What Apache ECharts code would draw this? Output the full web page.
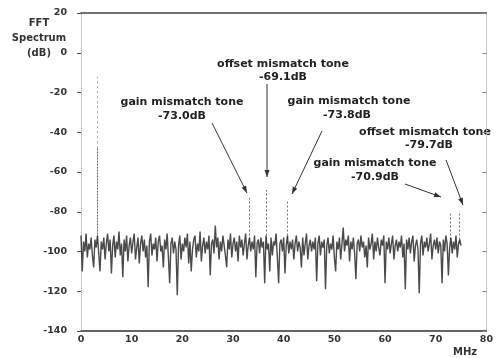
<!DOCTYPE html>
<html>
<head>
<meta charset="utf-8">
<script src="https://cdn.jsdelivr.net/npm/echarts@6/dist/echarts.min.js"></script>
<style>
html,body{margin:0;padding:0;background:#fff;}
#chart{width:496px;height:358px;}
</style>
</head>
<body>
<div id="chart"></div>
<script>
// ---- data ----
const binWidthMHz = 0.25; // FFT bin spacing of the noise floor trace
const noiseFloorDb = [
-92,-110,-95,-100,-91,-103,-96,-99,-93,-102,-108,-94,-98,-92,-101,-110,-95,-99,-93,-104,
-96,-91,-100,-94,-111,-97,-92,-103,-95,-99,-90,-102,-96,-113,-94,-100,-92,-105,-97,-93,
-101,-95,-91,-104,-98,-93,-106,-96,-92,-100,-94,-103,-97,-118,-95,-91,-102,-96,-99,-93,
-105,-95,-92,-100,-97,-108,-94,-99,-91,-103,-116,-96,-93,-101,-95,-99,-122,-97,-92,-104,
-96,-100,-93,-98,-91,-106,-95,-110,-99,-94,-92,-103,-96,-100,-90,-105,-97,-93,-101,-95,
-99,-92,-112,-96,-94,-101,-87,-98,-93,-104,-95,-100,-92,-97,-102,-108,-94,-99,-91,-103,
-96,-93,-100,-95,-105,-92,-98,-94,-102,-96,-91,-104,-97,-93,-100,-95,-99,-92,-113,-96,
-94,-101,-93,-98,-95,-116,-92,-99,-96,-110,-93,-102,-95,-97,-91,-103,-116,-96,-94,-100,
-93,-111,-97,-92,-101,-95,-99,-94,-104,-96,-92,-100,-95,-98,-108,-93,-102,-96,-91,-104,
-97,-94,-100,-95,-99,-93,-115,-96,-92,-102,-95,-98,-94,-119,-97,-93,-101,-96,-99,-92,
-103,-110,-95,-99,-93,-104,-96,-88,-100,-94,-97,-92,-105,-95,-99,-93,-101,-114,-96,-94,
-100,-92,-98,-95,-103,-97,-108,-93,-99,-96,-91,-104,-95,-100,-93,-98,-102,-94,-97,-92,
-116,-95,-99,-93,-101,-96,-92,-104,-97,-94,-100,-95,-98,-92,-103,-96,-119,-94,-99,-93,
-101,-95,-92,-105,-97,-94,-99,-121,-96,-92,-102,-95,-98,-93,-100,-96,-91,-104,-97,-94,
-99,-93,-101,-95,-97,-116,-94,-100,-92,-96,-112,-98,-93,-101,-95,-99,-92,-103,-96,-94,
-97
];
const spurFreqMHz = [33.2, 36.6, 40.7, 72.8, 74.7];
const spurLevelDb = [-73.0, -69.1, -73.8, -80.0, -79.7];
const spurBaseDb = -96;
const signalFreqMHz = 3.3;
const signalCoreDb = -48;
const signalFaintDb = -12;
const xTicks = [0, 10, 20, 30, 40, 50, 60, 70, 80];
const yTicks = [20, 0, -20, -40, -60, -80, -100, -120, -140];
const annotationTexts = [
  'offset mismatch tone', '-69.1dB',
  'gain mismatch tone', '-73.0dB',
  'gain mismatch tone', '-73.8dB',
  'offset mismatch tone', '-79.7dB',
  'gain mismatch tone', '-70.9dB'
];
const yAxisTitle = 'FFT\nSpectrum\n(dB)';
const xAxisTitle = 'MHz';

// ---- build ----
const noiseData = noiseFloorDb.map((v, i) => [i * binWidthMHz, v]);
const spurLines = spurFreqMHz.map((f, i) => ({ coords: [[f, spurBaseDb], [f, spurLevelDb[i]]] }));

const annoPos = [
  [283, 64], [283, 77],
  [182, 102], [182, 116],
  [349, 101], [347, 115],
  [425, 132], [429, 145],
  [375, 163], [375, 177]
];
const arrows = [
  [212, 123, 247, 193],
  [267, 84, 267, 177],
  [322, 131, 292, 194],
  [405, 184, 441, 197],
  [446, 160, 463, 205]
];
const annoFont = 'bold 11px "DejaVu Sans", Verdana, sans-serif';
const smallFont = 'bold 10px "DejaVu Sans", Verdana, sans-serif';

const graphics = [];
annotationTexts.forEach((t, i) => {
  graphics.push({
    type: 'text', silent: true,
    style: { text: t, x: annoPos[i][0], y: annoPos[i][1], align: 'center', verticalAlign: 'middle',
      font: annoFont, fill: '#222' }
  });
});
arrows.forEach(a => {
  const [x1, y1, x2, y2] = a;
  graphics.push({ type: 'line', silent: true, shape: { x1, y1, x2, y2 }, style: { stroke: '#333', lineWidth: 1 } });
  const ang = Math.atan2(y2 - y1, x2 - x1);
  const L = 7, W = 2.5;
  const bx = x2 - L * Math.cos(ang), by = y2 - L * Math.sin(ang);
  graphics.push({ type: 'polygon', silent: true, shape: { points: [
    [x2, y2], [bx + W * Math.sin(ang), by - W * Math.cos(ang)], [bx - W * Math.sin(ang), by + W * Math.cos(ang)]
  ] }, style: { fill: '#333' } });
});
graphics.push({ type: 'text', silent: true, style: { text: yAxisTitle, x: 39, y: 16, align: 'center', verticalAlign: 'top',
  lineHeight: 15, font: smallFont, fill: '#333' } });
graphics.push({ type: 'text', silent: true, style: { text: xAxisTitle, x: 465, y: 352, align: 'center', verticalAlign: 'middle',
  font: smallFont, fill: '#333' } });

const labelFont = { fontFamily: '"DejaVu Sans", Verdana, sans-serif', fontWeight: 'bold', fontSize: 9.5, color: '#333' };
const yBase = { type: 'value', min: -140, max: 20, interval: 20, splitLine: { show: false } };

const chart = echarts.init(document.getElementById('chart'), null, { renderer: 'canvas' });
chart.setOption({
  animation: false,
  backgroundColor: '#fff',
  grid: { left: 81, right: 7, top: 13, bottom: 27 },
  xAxis: [
    { type: 'value', min: 0, max: 80, interval: 10, position: 'bottom',
      axisLine: { show: true, onZero: false, lineStyle: { color: '#333', width: 1.5 } },
      axisTick: { show: false }, splitLine: { show: false },
      axisLabel: Object.assign({ margin: 4, formatter: v => xTicks.includes(v) ? String(v) : '' }, labelFont) },
    { type: 'value', min: 0, max: 80, interval: 10, position: 'top',
      axisLine: { show: true, onZero: false, lineStyle: { color: '#444', width: 1.5 } },
      axisTick: { show: false }, axisLabel: { show: false }, splitLine: { show: false } }
  ],
  yAxis: [
    Object.assign({}, yBase, { position: 'left',
      axisLine: { show: true, onZero: false, lineStyle: { color: '#bbb', type: 'dotted', width: 1 } },
      axisTick: { show: false },
      axisLabel: Object.assign({ margin: 14, formatter: v => yTicks.includes(v) ? String(v) : '' }, labelFont) }),
    Object.assign({}, yBase, { position: 'left', offset: 8,
      axisLine: { show: false }, axisTick: { show: true, length: 4, lineStyle: { color: '#555' } },
      axisLabel: { show: false } }),
    Object.assign({}, yBase, { position: 'right',
      axisLine: { show: true, onZero: false, lineStyle: { color: '#bbb', type: 'dotted', width: 1 } },
      axisTick: { show: true, inside: true, length: 4, lineStyle: { color: '#888' } },
      axisLabel: { show: false } })
  ],
  series: [
    { type: 'lines', coordinateSystem: 'cartesian2d', silent: true,
      data: [{ coords: [[signalFreqMHz, signalCoreDb], [signalFreqMHz, signalFaintDb]] }],
      lineStyle: { color: '#aaa', width: 1, type: [2, 3], opacity: 1 } },
    { type: 'lines', coordinateSystem: 'cartesian2d', silent: true,
      data: [{ coords: [[signalFreqMHz, spurBaseDb], [signalFreqMHz, signalCoreDb]] }],
      lineStyle: { color: '#666', width: 1, type: [2, 1], opacity: 1 } },
    { type: 'lines', coordinateSystem: 'cartesian2d', silent: true,
      data: spurLines,
      lineStyle: { color: '#777', width: 1, type: [2, 2], opacity: 1 } },
    { type: 'line', data: noiseData, showSymbol: false, sampling: 'none', silent: true,
      lineStyle: { color: '#2a2a2a', width: 1.4, opacity: 0.85 } }
  ],
  graphic: graphics
});
</script>
</body>
</html>
